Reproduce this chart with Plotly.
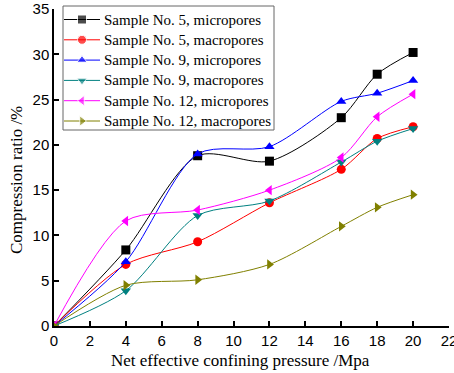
import plotly.graph_objects as go

pressure = [0, 4, 8, 12, 16, 18, 20]

s5_micro = [0, 8.4, 18.8, 18.2, 23.0, 27.8, 30.2]
s5_macro = [0, 6.8, 9.3, 13.6, 17.3, 20.7, 22.0]
s9_micro = [0, 7.1, 19.0, 19.8, 24.8, 25.7, 27.1]
s9_macro = [0, 3.9, 12.2, 13.8, 18.1, 20.4, 21.8]
s12_micro = [0, 11.6, 12.8, 15.0, 18.6, 23.1, 25.6]
s12_macro = [0, 4.5, 5.1, 6.8, 11.0, 13.1, 14.5]

series_names = [
    "Sample No. 5, micropores",
    "Sample No. 5, macropores",
    "Sample No. 9, micropores",
    "Sample No. 9, macropores",
    "Sample No. 12, micropores",
    "Sample No. 12, macropores",
]
series_values = [s5_micro, s5_macro, s9_micro, s9_macro, s12_micro, s12_macro]
colors = ["#000000", "#ff0000", "#0000ff", "#008080", "#ff00ff", "#808000"]
symbols = ["square", "circle", "triangle-up", "triangle-down",
           "triangle-left", "triangle-right"]

x_title = "Net effective confining pressure /Mpa"
y_title = "Compression ratio /%"

serif = "Liberation Serif, Times New Roman, serif"
sans = "Liberation Sans, Arial, sans-serif"

W, H = 454, 373
M_L, M_R, M_T, M_B = 54, 5, 9, 47
pw, ph = W - M_L - M_R, H - M_T - M_B


def px_to_paper(px, py):
    """Convert page pixel position to paper coordinates."""
    return (px - M_L) / pw, (H - M_B - py) / ph


fig = go.Figure()
for name, ys, color, sym in zip(series_names, series_values, colors, symbols):
    fig.add_trace(go.Scatter(
        x=pressure, y=ys, name=name, mode="lines+markers",
        line=dict(color=color, width=1, shape="spline", smoothing=0.8),
        marker=dict(color=color, symbol=sym, size=9),
        showlegend=False,
    ))

# Compact legend panel drawn on a pixel-unit overlay axis pair
LEG_X0, LEG_X1, LEG_Y0, LEG_Y1 = 63, 274, 6, 130
ROW0, ROW_STEP = 19.5, 20.3
KEY_X0, KEY_X1, TEXT_X = 64, 100, 102

for i, (name, color, sym) in enumerate(zip(series_names, colors, symbols)):
    yrow = ROW0 + i * ROW_STEP
    fig.add_trace(go.Scatter(
        x=[KEY_X0, (KEY_X0 + KEY_X1) / 2, KEY_X1], y=[yrow] * 3,
        xaxis="x2", yaxis="y2", mode="lines+markers",
        line=dict(color=color, width=1),
        marker=dict(color=color, symbol=sym, size=[0, 9, 0]),
        showlegend=False, hoverinfo="skip", cliponaxis=False,
    ))
    fig.add_annotation(x=TEXT_X, y=yrow, xref="x2", yref="y2",
                       text=name, showarrow=False, xanchor="left",
                       yanchor="middle",
                       font=dict(family=serif, size=15, color="black"))

# legend frame
fx0, fy1 = px_to_paper(LEG_X0, LEG_Y0)
fx1, fy0 = px_to_paper(LEG_X1, LEG_Y1)
fig.add_shape(type="rect", xref="paper", yref="paper",
              x0=fx0, x1=fx1, y0=fy0, y1=fy1,
              line=dict(color="#666666", width=1), layer="above")

# axis titles
tx, ty = px_to_paper(240, 360)
fig.add_annotation(x=tx, y=ty, xref="paper", yref="paper", text=x_title,
                   showarrow=False, xanchor="center", yanchor="middle",
                   borderpad=0,
                   font=dict(family=serif, size=17, color="black"))
tx, ty = px_to_paper(16, 180)
fig.add_annotation(x=tx, y=ty, xref="paper", yref="paper", text=y_title,
                   showarrow=False, xanchor="center", yanchor="middle",
                   textangle=-90,
                   font=dict(family=serif, size=17, color="black"))

fig.update_layout(
    width=W, height=H,
    margin=dict(l=M_L, r=M_R, t=M_T, b=M_B),
    plot_bgcolor="white", paper_bgcolor="white",
    showlegend=False,
    xaxis=dict(
        range=[0, 22], tickvals=list(range(0, 23, 2)),
        ticks="inside", ticklen=5, tickwidth=1.5, tickcolor="black",
        showline=True, linecolor="black", linewidth=1.5,
        showgrid=False, zeroline=False, ticklabeloverflow="allow",
        automargin=False, ticklabelstandoff=0,
        tickfont=dict(family=sans, size=15, color="black"),
    ),
    yaxis=dict(
        range=[0, 35], tickvals=list(range(0, 36, 5)),
        ticks="inside", ticklen=5, tickwidth=1.5, tickcolor="black",
        showline=True, linecolor="black", linewidth=1.5,
        showgrid=False, zeroline=False, automargin=False,
        tickfont=dict(family=sans, size=15, color="black"),
    ),
    xaxis2=dict(overlaying="x", range=[M_L, W - M_R], visible=False,
                fixedrange=True),
    yaxis2=dict(overlaying="y", range=[H - M_B, M_T], visible=False,
                fixedrange=True),
)

fig.write_html("out.html")
